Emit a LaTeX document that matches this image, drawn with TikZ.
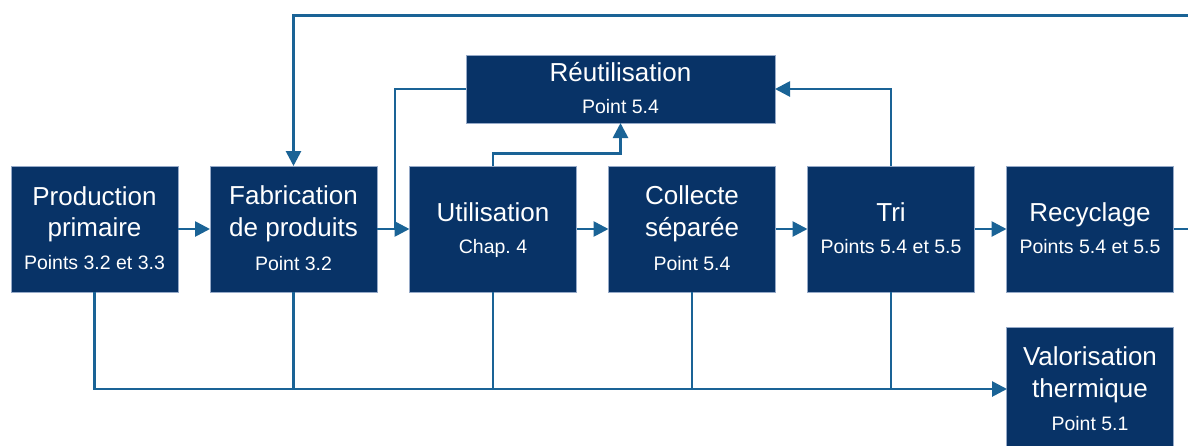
\documentclass[tikz,border=0pt]{standalone}
\usepackage{fontspec}
\setmainfont{Liberation Sans}
\usetikzlibrary{arrows.meta,calc}
\definecolor{boxc}{RGB}{8,51,103}
\definecolor{linec}{RGB}{26,99,150}
\definecolor{edgec}{RGB}{150,170,200}
\frenchspacing
\begin{document}
\begin{tikzpicture}[x=1pt,y=-1pt,
 box/.style={fill=boxc,draw=edgec,line width=0.6pt,inner sep=0pt,outer sep=0pt,minimum width=167pt,minimum height=126pt},
 big/.style={text=white,font=\fontsize{26}{26}\selectfont,inner sep=0pt,anchor=base},
 small/.style={text=white,font=\fontsize{19.5}{19.5}\selectfont,inner sep=0pt,anchor=base},
 flow/.style={draw=linec,line width=2.7pt},
 arr/.style={flow,-{Triangle[length=15pt,width=15pt]}}
]
\clip (0,0) rectangle (1188,445);
\fill[white] (0,0) rectangle (1188,445);

% boxes
\node[box] (prod) at (94.5,229) {};
\node[box] (fab) at (293.5,229) {};
\node[box] (util) at (493,229) {};
\node[box] (coll) at (692,229) {};
\node[box] (tri) at (891,229) {};
\node[box] (recy) at (1090,229) {};
\node[box,minimum height=138pt] (valo) at (1090,396) {};
\node[box,minimum width=309pt,minimum height=68pt] (reut) at (620.5,89) {};

% texts
\node[big] (prod1) at (94.5,205.7) {Production};
\node[big] (prod2) at (94.5,236.7) {primaire};
\node[small] (prod3) at (94.5,269) {Points 3.2 et 3.3};

\node[big] (fab1) at (293.5,204.5) {Fabrication};
\node[big] (fab2) at (293.5,236.7) {de produits};
\node[small] (fab3) at (293.5,270) {Point 3.2};

\node[big] (util1) at (493,221) {Utilisation};
\node[small] (util2) at (493,253) {Chap.\ 4};

\node[big] (coll1) at (692,204.5) {Collecte};
\node[big] (coll2) at (692,236.7) {séparée};
\node[small] (coll3) at (692,270) {Point 5.4};

\node[big] (tri1) at (891,221) {Tri};
\node[small] (tri2) at (891,253) {Points 5.4 et 5.5};

\node[big] (recy1) at (1090,221) {Recyclage};
\node[small] (recy2) at (1090,253) {Points 5.4 et 5.5};

\node[big] (valo1) at (1090,365) {Valorisation};
\node[big] (valo2) at (1090,397.3) {thermique};
\node[small] (valo3) at (1090,430.7) {Point 5.1};

\node[big] (reut1) at (620.5,81.7) {Réutilisation};
\node[small] (reut2) at (620.5,113.3) {Point 5.4};

% coordinates
\coordinate (jn) at (395,229);
\coordinate (ub) at (620.5,153.3);
\coordinate (valin) at (1007,389);
\coordinate (rr) at (1196,229);
\coordinate (rt) at (1196,15.7);

% main flow
\draw[arr] (prod.east) -- (fab.west);
\draw[arr] (fab.east) -- (util.west);
\draw[arr] (util.east) -- (coll.west);
\draw[arr] (coll.east) -- (tri.west);
\draw[arr] (tri.east) -- (recy.west);

% recycling loop
\draw[arr] (recy.east) -- (rr) -- (rt) -| (fab.north);

% reuse
\draw[flow] (reut.west) -| (jn);
\draw[arr] (util.north) |- (ub) -- (reut.south);
\draw[arr] (tri.north) |- (reut.east);

% thermal recovery
\draw[arr] (prod.south) |- (valin);
\draw[flow] (fab.south) -- (fab.south |- valin);
\draw[flow] (util.south) -- (util.south |- valin);
\draw[flow] (coll.south) -- (coll.south |- valin);
\draw[flow] (tri.south) -- (tri.south |- valin);
\end{tikzpicture}
\end{document}
